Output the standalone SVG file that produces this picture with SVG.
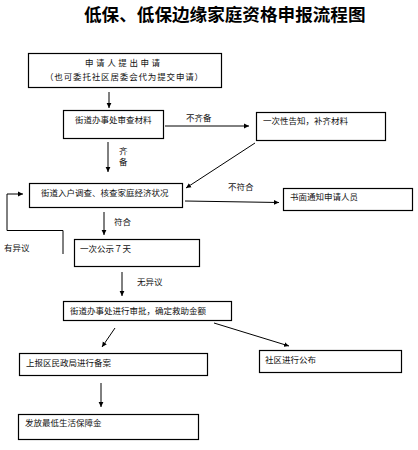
<svg xmlns="http://www.w3.org/2000/svg" width="418" height="450" viewBox="0 0 418 450">
<style>
.box{fill:#fff;stroke:#000;stroke-width:1.2}
.t{font-family:"Noto Sans CJK SC","Noto Sans CJK JP",sans-serif;font-size:8.5px;fill:#111}
.ttl{font-family:"Noto Sans CJK SC","Noto Sans CJK JP",sans-serif;font-size:17.6px;font-weight:bold;fill:#000}
.ln{fill:none;stroke:#000;stroke-width:1}
</style>
<defs>
<marker id="ah" markerWidth="6" markerHeight="6" refX="5" refY="3" orient="auto" markerUnits="userSpaceOnUse">
<path d="M0,0.6 L5,3 L0,5.4 Z" fill="#000"/>
</marker>
</defs>
<rect width="418" height="450" fill="#fff"/>
<text class="ttl" x="84" y="21">低保、低保边缘家庭资格申报流程图</text>

<g id="connectors">
<line class="ln" x1="109" y1="92" x2="109" y2="108" marker-end="url(#ah)"/>
<line class="ln" x1="165" y1="126" x2="249" y2="126" marker-end="url(#ah)"/>
<text class="t" x="186" y="121">不齐备</text>
<line class="ln" x1="255" y1="143" x2="186" y2="188" marker-end="url(#ah)"/>
<line class="ln" x1="108" y1="142" x2="108" y2="172" marker-end="url(#ah)"/>
<text class="t" x="119" y="154">齐</text>
<text class="t" x="119" y="165">备</text>
<line class="ln" x1="185" y1="201" x2="279" y2="202.5" marker-end="url(#ah)"/>
<text class="t" x="228" y="190">不符合</text>
<line class="ln" x1="104" y1="212" x2="104" y2="235" marker-end="url(#ah)"/>
<text class="t" x="114" y="225">符合</text>
<polyline class="ln" points="63,254 63,230.5 7,230.5 7,194 23,194" marker-end="url(#ah)"/>
<text class="t" x="4" y="251">有异议</text>
<line class="ln" x1="122" y1="272" x2="122" y2="296" marker-end="url(#ah)"/>
<text class="t" x="137" y="285">无异议</text>
<line class="ln" x1="115" y1="328" x2="102" y2="347" marker-end="url(#ah)"/>
<line class="ln" x1="214" y1="323" x2="289" y2="346" marker-end="url(#ah)"/>
<line class="ln" x1="101" y1="383" x2="101" y2="407" marker-end="url(#ah)"/>
</g>

<g id="n1"><rect class="box" x="28.5" y="53.5" width="193" height="34"/>
<text class="t" x="85" y="66" letter-spacing="2.6">申请人提出申请</text>
<text class="t" x="45" y="79.5" letter-spacing="0.85">（也可委托社区居委会代为提交申请）</text></g>
<g id="n2"><rect class="box" x="63.5" y="110.5" width="100" height="28"/>
<text class="t" x="75" y="123">街道办事处审查材料</text></g>
<g id="n3"><rect class="box" x="256.5" y="112.5" width="129" height="28"/>
<text class="t" x="263" y="124">一次性告知，补齐材料</text></g>
<g id="n4"><rect class="box" x="29.5" y="183.5" width="153" height="24"/>
<text class="t" x="41" y="196">街道入户调查、核查家庭经济状况</text></g>
<g id="n5"><rect class="box" x="283.5" y="188.5" width="129" height="22"/>
<text class="t" x="290" y="200">书面通知申请人员</text></g>
<g id="n6"><rect class="box" x="74.5" y="239.5" width="125" height="27"/>
<text class="t" x="80" y="252">一次公示７天</text></g>
<g id="n7"><rect class="box" x="63.5" y="301.5" width="168" height="19"/>
<text class="t" x="70" y="314">街道办事处进行审批，确定救助金额</text></g>
<g id="n8"><rect class="box" x="19.5" y="353.5" width="188" height="22"/>
<text class="t" x="26" y="366">上报区民政局进行备案</text></g>
<g id="n9"><rect class="box" x="259.5" y="350.5" width="142" height="22"/>
<text class="t" x="265" y="363">社区进行公布</text></g>
<g id="n10"><rect class="box" x="18.5" y="414.5" width="180" height="25"/>
<text class="t" x="25" y="426">发放最低生活保障金</text></g>
</svg>
